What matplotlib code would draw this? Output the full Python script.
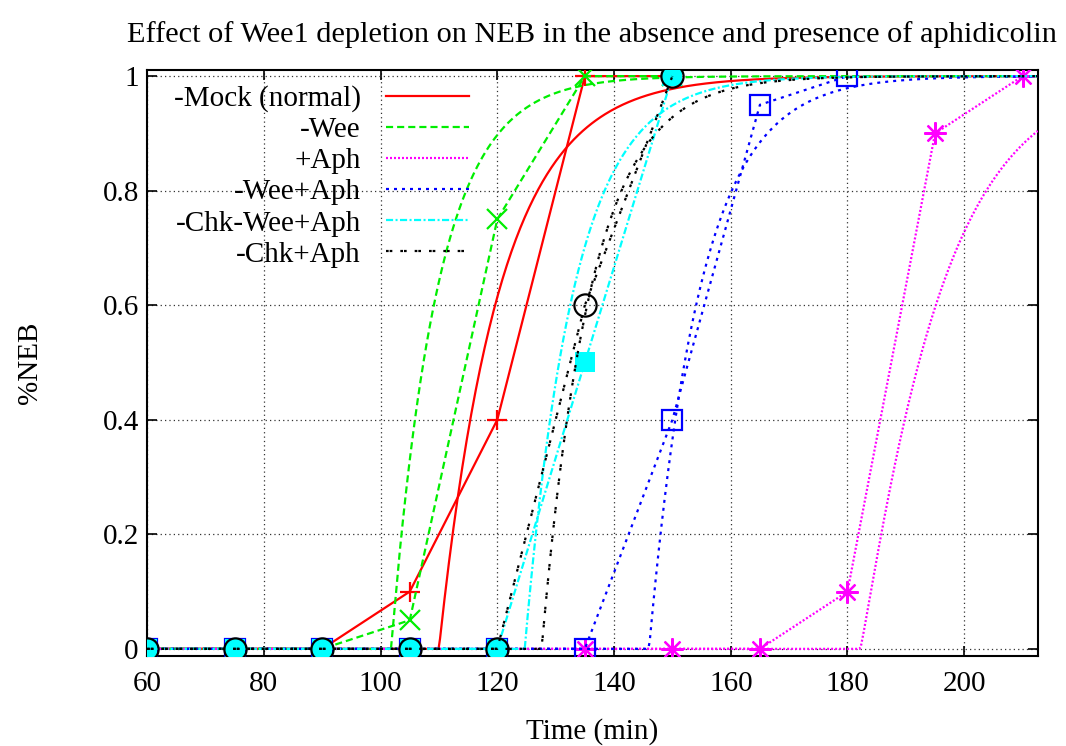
import numpy as np
import matplotlib
matplotlib.use('Agg')
import matplotlib.pyplot as plt
from matplotlib.ticker import FuncFormatter, MultipleLocator

plt.rcParams['font.family'] = ['Liberation Serif', 'DejaVu Serif']
plt.rcParams['font.size'] = 21

# sampling times (min)
time_min = [60, 75, 90, 105, 120, 135, 150, 165, 180, 195, 210]

# measured fraction of cells past NEB
mock = [0, 0, 0, 0.1, 0.4, 1.0, 1.0]
wee = [0, 0, 0, 0.05, 0.75, 1.0, 1.0]
aph = [0, 0, 0, 0, 0, 0, 0, 0, 0.1, 0.9, 1.0]
wee_aph = [0, 0, 0, 0, 0, 0, 0.4, 0.95, 1.0]
chk_wee_aph = [0, 0, 0, 0, 0, 0.5, 1.0]
chk_aph = [0, 0, 0, 0, 0, 0.6, 1.0]

labels = ['-Mock (normal)', '-Wee', '+Aph', '-Wee+Aph', '-Chk-Wee+Aph', '-Chk+Aph']

# fitted curves: f(t) = 1 - exp(-((t - onset)/tau)^shape) for t > onset
fit_onset = [110.0, 101.8, 182.2, 146.0, 124.7, 127.6]
fit_tau = [10.5, 8.0, 14.0, 8.8, 8.5, 8.5]
fit_shape = [1.0, 1.0, 1.1, 1.0, 1.0, 1.0]

series = [mock, wee, aph, wee_aph, chk_wee_aph, chk_aph]

# gnuplot-like styles
colors = ['#ff0000', '#00ee00', '#ff00ff', '#0000ff', '#00ffff', '#000000']
lw = 1.6
dashes = ['-', (0, (3.2, 1.8)), (0, (0.9, 0.9)), (0, (1.35, 2.25)),
          (0, (3.2, 1.1, 0.9, 1.1)), (0, (1.2, 0.45, 1.2, 3.6))]
markers = ['+', 'x', (8, 2, 0), 's', 's', 'o']
msizes = [15, 15, 16, 14, 14, 16]
mfill = ['none', 'none', 'none', 'none', 'full', 'none']

xmin, xmax = 60, 212.6
fig, ax = plt.subplots(figsize=(10.66, 7.46), dpi=100)
fig.subplots_adjust(left=0.138, right=0.9735, top=0.906, bottom=0.121)

tt = np.linspace(xmin, xmax, 600)
handles = []
for i, ys in enumerate(series):
    xs = time_min[:len(ys)]
    c = colors[i]
    if mfill[i] == 'full':
        ax.plot(xs, ys, color=c, lw=lw, ls=dashes[i], marker=markers[i],
                ms=msizes[i], mfc=c, mec=c, mew=0, zorder=3 + i)
    else:
        ax.plot(xs, ys, color=c, lw=lw, ls=dashes[i], marker=markers[i],
                ms=msizes[i], mfc='none', mec=c, mew=1.6, zorder=3 + i)
    a, b, k = fit_onset[i], fit_tau[i], fit_shape[i]
    z = np.clip(tt - a, 0, None)
    fy = 1 - np.exp(-(z / b) ** k)
    h, = ax.plot(tt, fy, color=c, lw=lw, ls=dashes[i], label=labels[i], zorder=3 + i)
    handles.append(h)

ax.set_xlim(xmin, xmax)
ax.set_ylim(-0.012, 1.0105)
ax.xaxis.set_major_locator(MultipleLocator(20))
ax.yaxis.set_major_locator(MultipleLocator(0.2))
ax.yaxis.set_major_formatter(FuncFormatter(lambda v, p: '%g' % round(v, 2)))
ax.tick_params(direction='in', length=7, width=1.2, top=True, right=True)
ax.tick_params(axis='x', pad=11)
ax.tick_params(axis='y', pad=6)
ax.grid(True, color='#333333', ls=(0, (1, 2.5)), lw=0.9)
for s in ax.spines.values():
    s.set_linewidth(1.5)

ax.set_xlabel('Time (min)', labelpad=15)
ax.set_ylabel('%NEB', labelpad=43)
ax.set_title('Effect of Wee1 depletion on NEB in the absence and presence of aphidicolin',
             pad=20, fontsize=21.9)

leg = ax.legend(handles=handles, loc='upper left', bbox_to_anchor=(0.017, 0.994),
                frameon=False, markerfirst=False, handlelength=2.86,
                labelspacing=0.16, handletextpad=0.86, borderaxespad=0.0)

fig.savefig('out.png', dpi=100)
